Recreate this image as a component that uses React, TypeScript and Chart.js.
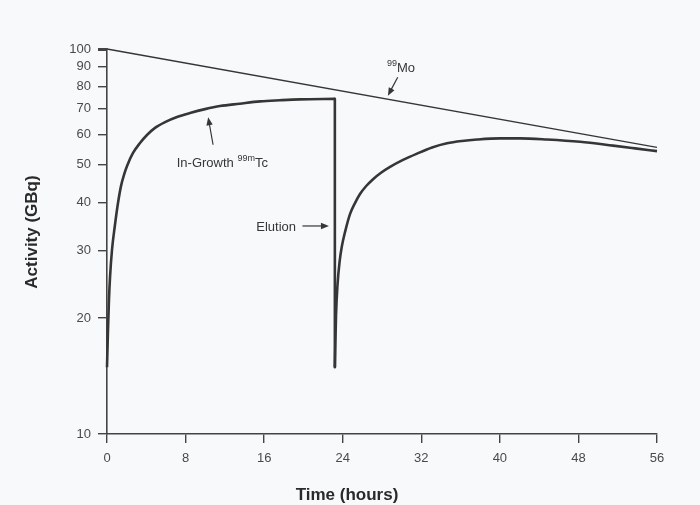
import { useEffect, useRef } from "react";
import { Chart, registerables } from "chart.js";

Chart.register(...registerables);

// ---- data ----
const timeTicks = [0, 8, 16, 24, 32, 40, 48, 56];
const activityTicks = [10, 20, 30, 40, 50, 60, 70, 80, 90, 100];

const moTime = [0, 56];
const moActivity = [100, 55.5];

const growth1Time = [0, 0.1, 0.2, 0.31, 0.51, 0.81, 1.12, 1.43, 1.73, 2.04, 2.65, 3.36, 4.07, 4.89, 5.91, 7.13, 8.45, 9.98, 11.5, 13.5, 15.6, 17.6, 19.65, 23.2];
const growth1Activity = [14.9, 18.6, 22.3, 25.6, 30.1, 34.9, 39.8, 44.1, 47.1, 49.7, 53.7, 57.0, 59.8, 62.4, 64.6, 66.6, 68.2, 69.8, 71.1, 72.1, 73.1, 73.6, 74.0, 74.2];

const elutionTime = [23.2, 23.2];
const elutionActivity = [74.2, 14.9];

const growth2Time = [23.2, 23.32, 23.47, 23.68, 23.9, 24.24, 24.75, 25.25, 25.76, 26.37, 27.09, 27.9, 28.82, 30.14, 31.57, 33.1, 34.62, 36.15, 37.68, 40.02, 42.06, 44.8, 48.17, 51.53, 53.77, 56];
const growth2Activity = [14.9, 20.4, 24.4, 28.0, 30.6, 33.5, 37.3, 39.8, 42.0, 44.0, 45.9, 47.7, 49.4, 51.5, 53.5, 55.5, 56.9, 57.7, 58.2, 58.6, 58.6, 58.2, 57.4, 56.1, 55.2, 54.3];

const toPoints = (xs: number[], ys: number[]) => xs.map((x, i) => ({ x, y: ys[i] }));

const FONT = "'Liberation Sans', Arial, Helvetica, sans-serif";
const INK = "#363636";

function arrow(ctx: CanvasRenderingContext2D, x1: number, y1: number, x2: number, y2: number) {
  const ang = Math.atan2(y2 - y1, x2 - x1);
  const hl = 8, hw = 3.2;
  ctx.beginPath();
  ctx.moveTo(x1, y1);
  ctx.lineTo(x2 - Math.cos(ang) * hl * 0.8, y2 - Math.sin(ang) * hl * 0.8);
  ctx.stroke();
  ctx.beginPath();
  ctx.moveTo(x2, y2);
  ctx.lineTo(x2 - Math.cos(ang) * hl - Math.sin(ang) * hw, y2 - Math.sin(ang) * hl + Math.cos(ang) * hw);
  ctx.lineTo(x2 - Math.cos(ang) * hl + Math.sin(ang) * hw, y2 - Math.sin(ang) * hl - Math.cos(ang) * hw);
  ctx.closePath();
  ctx.fill();
}

function supText(ctx: CanvasRenderingContext2D, x: number, y: number, parts: [string, boolean][]) {
  let cx = x;
  for (const [txt, sup] of parts) {
    ctx.font = sup ? `9px ${FONT}` : `13px ${FONT}`;
    ctx.fillText(txt, cx, sup ? y - 6 : y);
    cx += ctx.measureText(txt).width;
  }
}

const annotations = {
  id: "annotations",
  afterDatasetsDraw(chart: any) {
    const { ctx } = chart;
    const xs = chart.scales.x;
    const ys = chart.scales.y;
    const X = (t: number) => xs.getPixelForValue(t);
    const Y = (v: number) => ys.getPixelForValue(v);
    ctx.save();
    ctx.fillStyle = INK;
    ctx.strokeStyle = INK;
    ctx.lineWidth = 1.2;
    ctx.textBaseline = "alphabetic";
    ctx.textAlign = "left";

    // 99Mo
    supText(ctx, X(28.5), Y(87.1), [["99", true], ["Mo", false]]);
    arrow(ctx, X(29.6), Y(84.5), X(28.6), Y(75.6));

    // In-Growth 99mTc
    supText(ctx, X(7.1), Y(49.5), [["In-Growth ", false], ["99m", true], ["Tc", false]]);
    arrow(ctx, X(10.8), Y(56.4), X(10.3), Y(66.5));

    // Elution
    ctx.font = `13px ${FONT}`;
    ctx.fillText("Elution", X(15.2), Y(33.6));
    arrow(ctx, X(19.9), Y(34.7), X(22.6), Y(34.7));

    // axis titles
    ctx.fillStyle = "#2a2a2a";
    ctx.font = `bold 17px ${FONT}`;
    ctx.textAlign = "center";
    ctx.textBaseline = "middle";
    ctx.fillText("Time (hours)", 347, 495);
    ctx.translate(32, 232);
    ctx.rotate(-Math.PI / 2);
    ctx.fillText("Activity (GBq)", 0, 0);
    ctx.restore();
  },
};

export default function App() {
  const ref = useRef<HTMLCanvasElement | null>(null);

  useEffect(() => {
    if (!ref.current) return;
    const lineDs = (label: string, xs: number[], ys: number[], width: number, mono: boolean) => ({
      label,
      data: toPoints(xs, ys),
      showLine: true,
      borderColor: INK,
      backgroundColor: INK,
      borderWidth: width,
      pointRadius: 0,
      pointHoverRadius: 0,
      fill: false,
      cubicInterpolationMode: mono ? ("monotone" as const) : ("default" as const),
      tension: 0,
      borderJoinStyle: "round" as const,
      clip: false as any,
    });

    const chart = new Chart(ref.current, {
      type: "scatter",
      data: {
        datasets: [
          lineDs("99Mo", moTime, moActivity, 1.3, false),
          lineDs("In-Growth 99mTc", growth1Time, growth1Activity, 2.6, true),
          lineDs("Elution", elutionTime, elutionActivity, 2.6, false),
          lineDs("In-Growth after elution", growth2Time, growth2Activity, 2.6, true),
        ],
      },
      options: {
        animation: false,
        responsive: false,
        devicePixelRatio: 1,
        layout: { padding: { top: 49, right: 43, left: 0, bottom: 0 } },
        plugins: {
          legend: { display: false },
          tooltip: { enabled: false },
        },
        scales: {
          x: {
            type: "linear",
            min: 0,
            max: 56,
            afterBuildTicks: (s: any) => {
              s.ticks = timeTicks.map((v) => ({ value: v }));
            },
            afterFit: (s: any) => {
              s.height = 71;
            },
            ticks: {
              color: "#4a4a4a",
              font: { family: FONT, size: 13 },
              padding: 8,
              maxRotation: 0,
            },
            grid: {
              drawOnChartArea: false,
              drawTicks: true,
              tickLength: 9,
              color: "#444",
              lineWidth: 1.4,
            },
            border: { display: true, color: "#444", width: 1.6 },
          },
          y: {
            type: "logarithmic",
            min: 10,
            max: 100,
            afterBuildTicks: (s: any) => {
              s.ticks = activityTicks.map((v) => ({ value: v }));
            },
            afterFit: (s: any) => {
              s.width = 107;
            },
            ticks: {
              color: "#4a4a4a",
              font: { family: FONT, size: 13 },
              padding: 7,
              callback: (v: any) => String(v),
            },
            grid: {
              drawOnChartArea: false,
              drawTicks: true,
              tickLength: 9,
              color: "#444",
              lineWidth: (c: any) => (c.tick && c.tick.value === 100 ? 3 : 1.4),
            },
            border: { display: true, color: "#444", width: 1.6 },
          },
        },
      },
      plugins: [annotations],
    });
    return () => chart.destroy();
  }, []);

  return (
    <div style={{ position: "absolute", left: 0, top: 0, width: 700, height: 505, background: "#f8f9fb" }}>
      <canvas ref={ref} width={700} height={505} style={{ display: "block" }} />
    </div>
  );
}
